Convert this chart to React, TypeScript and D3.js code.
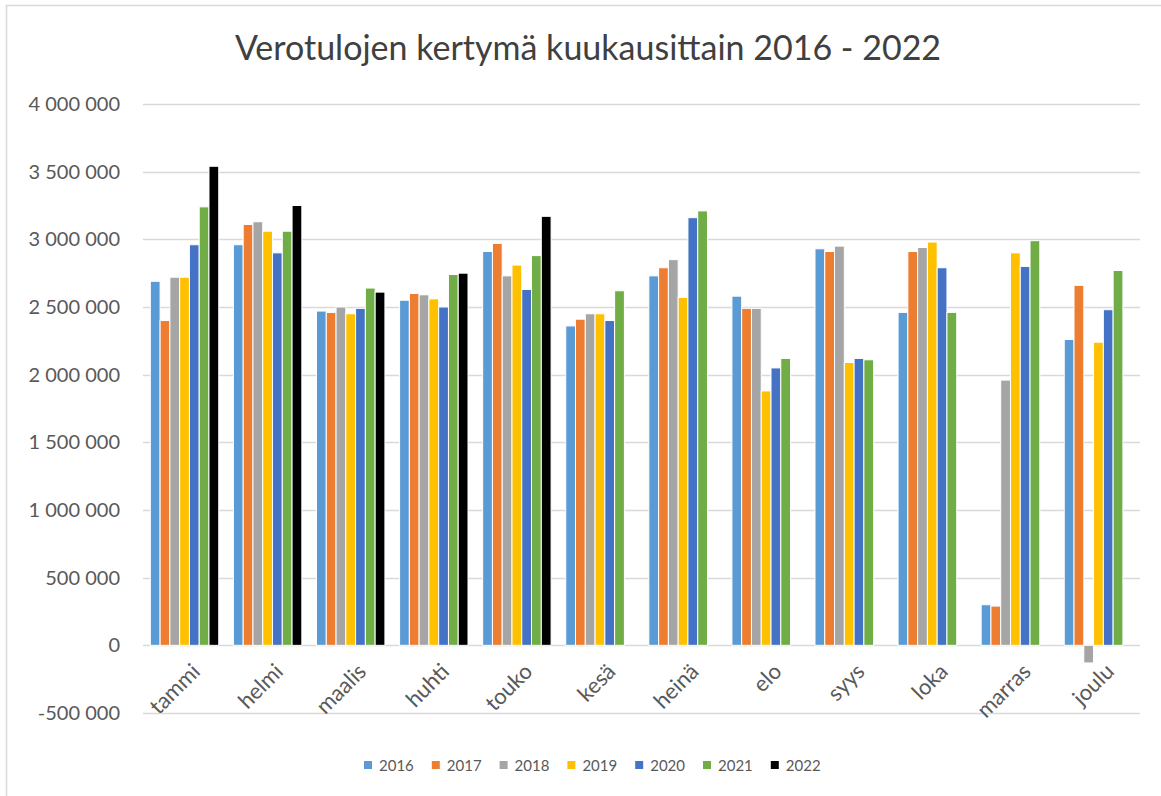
import React, { useEffect, useRef } from "react";
import * as d3 from "d3";

const months = ["tammi", "helmi", "maalis", "huhti", "touko", "kesä", "heinä", "elo", "syys", "loka", "marras", "joulu"];
const years = ["2016", "2017", "2018", "2019", "2020", "2021", "2022"];
const colors = ["#5b9bd5", "#ed7d31", "#a5a5a5", "#ffc000", "#4472c4", "#70ad47", "#000000"];

// arvot kuukausittain, null = ei tietoa
const v2016 = [2690000, 2960000, 2470000, 2550000, 2910000, 2360000, 2730000, 2580000, 2930000, 2460000, 300000, 2260000];
const v2017 = [2400000, 3110000, 2460000, 2600000, 2970000, 2410000, 2790000, 2490000, 2910000, 2910000, 290000, 2660000];
const v2018 = [2720000, 3130000, 2500000, 2590000, 2730000, 2450000, 2850000, 2490000, 2950000, 2940000, 1960000, -130000];
const v2019 = [2720000, 3060000, 2450000, 2560000, 2810000, 2450000, 2570000, 1880000, 2090000, 2980000, 2900000, 2240000];
const v2020 = [2960000, 2900000, 2490000, 2500000, 2630000, 2400000, 3160000, 2050000, 2120000, 2790000, 2800000, 2480000];
const v2021 = [3240000, 3060000, 2640000, 2740000, 2880000, 2620000, 3210000, 2120000, 2110000, 2460000, 2990000, 2770000];
const v2022 = [3540000, 3250000, 2610000, 2750000, 3170000, null, null, null, null, null, null, null];

const series = [v2016, v2017, v2018, v2019, v2020, v2021, v2022];
const yTicks = [-500000, 0, 500000, 1000000, 1500000, 2000000, 2500000, 3000000, 3500000, 4000000];

const FONT = "Lato, 'Noto Sans', sans-serif";

export default function App() {
  const ref = useRef<SVGSVGElement>(null);

  useEffect(() => {
    const width = 1161;
    const height = 796;
    const margin = { top: 104, left: 143, bottom: 83, right: 21 };

    const svg = d3.select(ref.current);
    svg.selectAll("*").remove();

    svg.append("rect")
      .attr("x", 6.5).attr("y", 5.5)
      .attr("width", 1300).attr("height", 900)
      .attr("fill", "#fff")
      .attr("stroke", "#d9d9d9")
      .attr("stroke-width", 1.5);

    svg.append("text")
      .attr("x", 588).attr("y", 60)
      .attr("text-anchor", "middle")
      .style("font-family", FONT)
      .style("font-size", "34px")
      .attr("fill", "#404040")
      .text("Verotulojen kertymä kuukausittain 2016 - 2022");

    const x = d3.scaleBand()
      .domain(months)
      .range([margin.left, width - margin.right]);

    const inner = d3.scaleBand()
      .domain(years)
      .range([0, x.bandwidth() * 7 / 8.5]);
    const groupOffset = (x.bandwidth() - x.bandwidth() * 7 / 8.5) / 2;

    const y = d3.scaleLinear()
      .domain([-500000, 4000000])
      .range([713, margin.top]);

    const fmt = (d: number) => d3.format(",")(d).replace(/,/g, " ").replace("−", "-");

    // gridlines
    const grid = svg.append("g");
    grid.selectAll("line")
      .data(yTicks)
      .enter()
      .append("line")
      .attr("x1", margin.left)
      .attr("x2", width - margin.right)
      .attr("y1", (d) => Math.round(y(d)) + 0.5)
      .attr("y2", (d) => Math.round(y(d)) + 0.5)
      .attr("stroke", "#d9d9d9")
      .attr("stroke-width", 1.5);

    grid.selectAll("text")
      .data(yTicks)
      .enter()
      .append("text")
      .attr("x", 120)
      .attr("y", (d) => y(d) + 7)
      .attr("text-anchor", "end")
      .style("font-family", FONT)
      .style("font-size", "20px")
      .attr("fill", "#595959")
      .text((d) => fmt(d));

    // bars
    series.forEach((vals, si) => {
      svg.append("g")
        .selectAll("rect")
        .data(vals.map((v, i) => ({ m: months[i], v })).filter((d) => d.v !== null))
        .enter()
        .append("rect")
        .attr("x", (d) => (x(d.m) as number) + groupOffset + (inner(years[si]) as number))
        .attr("width", inner.bandwidth())
        .attr("y", (d) => y(Math.max(0, d.v as number)))
        .attr("height", (d) => Math.abs(y(d.v as number) - y(0)))
        .attr("fill", colors[si])
        .attr("stroke", "#fff")
        .attr("stroke-width", 1);
    });

    // x labels
    svg.append("g")
      .selectAll("text")
      .data(months)
      .enter()
      .append("text")
      .attr("transform", (d) => `translate(${(x(d) as number) + x.bandwidth() / 2 + 6},${662}) rotate(-45)`)
      .attr("text-anchor", "end")
      .attr("dy", "0.7em")
      .style("font-family", FONT)
      .style("font-size", "22px")
      .attr("fill", "#595959")
      .text((d) => d);

    // legend
    const legend = svg.append("g");
    years.forEach((yr, i) => {
      const lx = 364 + i * 67.8;
      legend.append("rect")
        .attr("x", lx).attr("y", 761)
        .attr("width", 8).attr("height", 8)
        .attr("fill", colors[i]);
      legend.append("text")
        .attr("x", lx + 15).attr("y", 771)
        .style("font-family", FONT)
        .style("font-size", "15px")
        .attr("fill", "#595959")
        .text(yr);
    });
  }, []);

  return (
    <svg
      ref={ref}
      width={1161}
      height={796}
      style={{ position: "absolute", left: 0, top: 0, overflow: "hidden" }}
    />
  );
}
